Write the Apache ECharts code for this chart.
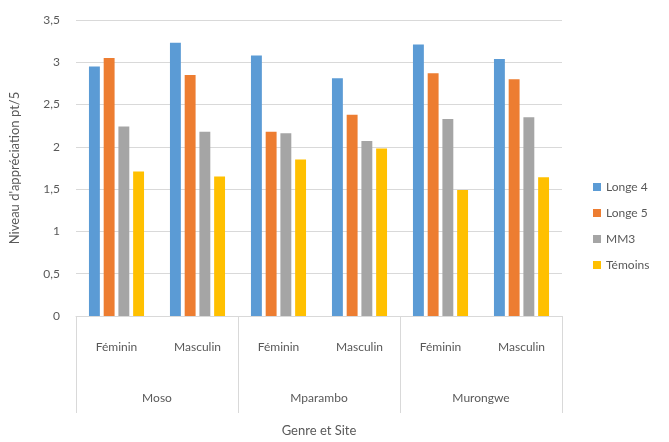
<!DOCTYPE html>
<html><head><meta charset="utf-8">
<script src="https://cdn.jsdelivr.net/npm/echarts@6/dist/echarts.min.js"></script>
<style>html,body{margin:0;padding:0;background:#fff}#c{width:669px;height:442px}</style>
</head><body><div id="c"></div>
<script>
const genres = ['Féminin','Masculin','Féminin','Masculin','Féminin','Masculin'];
const sites = ['Moso','Mparambo','Murongwe'];
const longe4 = [2.95, 3.23, 3.08, 2.81, 3.21, 3.04];
const longe5 = [3.05, 2.85, 2.18, 2.38, 2.87, 2.80];
const mm3 = [2.24, 2.18, 2.16, 2.07, 2.33, 2.35];
const temoins = [1.71, 1.65, 1.85, 1.98, 1.49, 1.64];
const seriesNames = ['Longe 4','Longe 5','MM3','Témoins'];
const colors = ['#5B9BD5','#ED7D31','#A5A5A5','#FFC000'];
const font = 'Lato, "Open Sans", sans-serif';
const txt = '#595959';
const chart = echarts.init(document.getElementById('c'));
const data = [longe4, longe5, mm3, temoins];
chart.setOption({
  animation: false,
  color: colors,
  textStyle: {fontFamily: font},
  grid: {left: 76, right: 107, top: 20, bottom: 121},
  legend: {
    orient: 'vertical', left: 588, top: 176, itemGap: 14,
    itemWidth: 8, itemHeight: 8, icon: 'rect',
    textStyle: {fontSize: 12, color: txt, fontFamily: font},
    data: seriesNames
  },
  xAxis: [{
    type: 'category', data: genres, position: 'bottom',
    axisLine: {show: true, lineStyle: {color: '#D9D9D9'}},
    axisTick: {show: false},
    axisLabel: {margin: 25, fontSize: 12, color: txt, fontFamily: font}
  }, {
    type: 'category', data: sites, position: 'bottom',
    axisLine: {show: false},
    axisTick: {show: true, length: 97, lineStyle: {color: '#D9D9D9'}},
    axisLabel: {margin: 76, fontSize: 12, color: txt, fontFamily: font},
    name: 'Genre et Site', nameLocation: 'middle', nameGap: 108,
    nameTextStyle: {fontSize: 13, color: txt, fontFamily: font}
  }],
  yAxis: {
    type: 'value', min: 0, max: 3.5, interval: 0.5,
    axisLine: {show: false}, axisTick: {show: false},
    splitLine: {lineStyle: {color: '#D9D9D9'}},
    axisLabel: {margin: 16, fontSize: 12, color: txt, fontFamily: font,
      formatter: v => String(v).replace('.', ',')},
    name: "Niveau d'appréciation pt/5", nameLocation: 'middle', nameGap: 55,
    nameTextStyle: {fontSize: 13, color: txt, fontFamily: font}
  },
  series: data.map((d, i) => ({
    name: seriesNames[i], type: 'bar', xAxisIndex: 0, data: d,
    barGap: '35%', barCategoryGap: '32%'
  }))
});
</script></body></html>
